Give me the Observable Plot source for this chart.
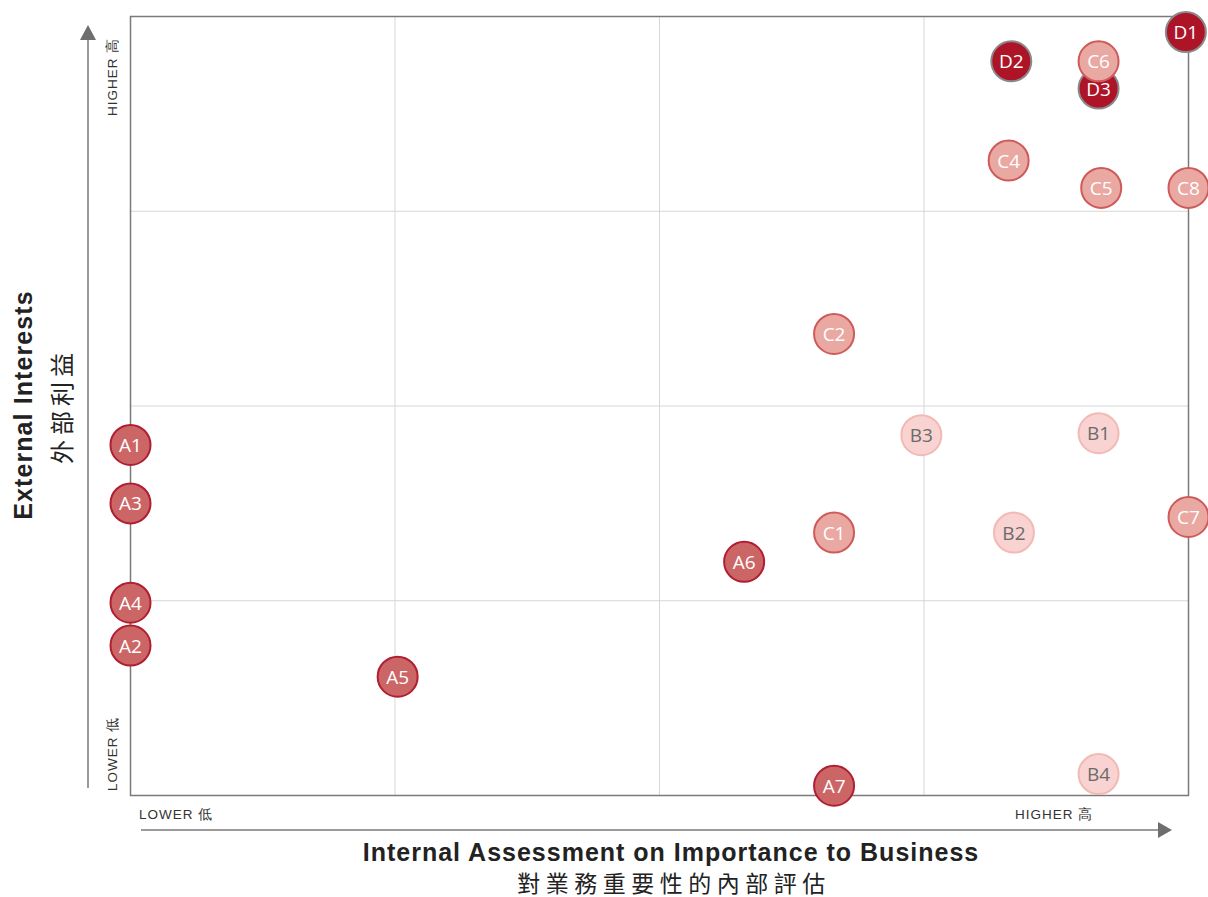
<!DOCTYPE html>
<html><head><meta charset="utf-8">
<script src="https://cdn.jsdelivr.net/npm/d3@7"></script>
<script src="https://cdn.jsdelivr.net/npm/@observablehq/plot@0.6"></script>
<style>body{margin:0;background:#fff}</style>
</head><body><div id="chart"></div>
<script>
const labels = ["D1","D2","D3","A1","A3","A4","A2","A5","A6","A7","B3","B1","B2","B4","C1","C2","C7","C4","C5","C8","C6"];
const internal = [3.99,3.33,3.66,0,0,0,0,1.01,2.32,2.66,2.99,3.66,3.34,3.66,2.66,2.66,4.0,3.32,3.67,4.0,3.66];
const external = [3.92,3.77,3.63,1.80,1.50,0.99,0.77,0.61,1.20,0.05,1.85,1.86,1.35,0.11,1.35,2.37,1.43,3.26,3.12,3.12,3.77];
const groups = labels.map(l => l[0]);
const gridTicks = [1,2,3];

const data = labels.map((l,i)=>({label:l, x:internal[i], y:external[i], g:groups[i]}));
const styles = {
  D:{fill:"#ad1428", stroke:"#8a8a8a", text:"#fff"},
  A:{fill:"#cc6666", stroke:"#b01e32", text:"#fff"},
  B:{fill:"#f8d3d1", stroke:"#f2b9b5", text:"#6b6b6b"},
  C:{fill:"#eaa8a3", stroke:"#cf5a5a", text:"#fff"}
};
const order = ["D","A","B","C"];
const marks = [
  Plot.gridX(gridTicks,{stroke:"#d6d6d6", strokeOpacity:1, strokeWidth:1}),
  Plot.gridY(gridTicks,{stroke:"#d6d6d6", strokeOpacity:1, strokeWidth:1}),
  Plot.frame({stroke:"#7a7a7a", strokeWidth:1.5})
];
for (const g of order) {
  const d = data.filter(v=>v.g===g);
  marks.push(Plot.dot(d,{x:"x",y:"y",r:20,fill:styles[g].fill,stroke:styles[g].stroke,strokeWidth:2}));
  marks.push(Plot.text(d,{x:"x",y:"y",text:"label",fill:styles[g].text,fontSize:19,fontFamily:"Open Sans",dy:1}));
}
const W=1208,H=897, ML=130, MR=20, MT=16, MB=102;
const plot = Plot.plot({
  width:W, height:H, marginLeft:ML, marginRight:MR, marginTop:MT, marginBottom:MB,
  x:{domain:[0,4], axis:null},
  y:{domain:[0,4], axis:null},
  clip:false,
  style:{fontFamily:"Open Sans", overflow:"visible"},
  marks
});
document.getElementById("chart").appendChild(plot);

const svg = d3.select(plot);
const deco = svg.insert("g", ":first-child");
const sans = "Liberation Sans, Arial, Helvetica, sans-serif";
// arrows
deco.append("line").attr("x1",88).attr("x2",88).attr("y1",788).attr("y2",38).attr("stroke","#7a7a7a").attr("stroke-width",1.5);
deco.append("path").attr("d","M80,40 L96,40 L88,25 Z").attr("fill","#6e6e6e");
deco.append("line").attr("x1",141).attr("x2",1160).attr("y1",830).attr("y2",830).attr("stroke","#7a7a7a").attr("stroke-width",1.5);
deco.append("path").attr("d","M1158,822 L1158,838 L1172,830 Z").attr("fill","#6e6e6e");
// small labels
const small = (x,y,t,rot,anchor)=>deco.append("text").attr("transform",`translate(${x},${y}) rotate(${rot})`)
  .attr("text-anchor",anchor).attr("font-family",sans).attr("font-size",13.5).attr("letter-spacing",1).attr("fill","#333").text(t);
small(117,116,"HIGHER 高",-90,"start");
small(117,791,"LOWER 低",-90,"start");
small(139,819,"LOWER 低",0,"start");
small(1015,819,"HIGHER 高",0,"start");
// titles
deco.append("text").attr("x",671).attr("y",861).attr("text-anchor","middle").attr("font-family",sans).attr("font-weight","bold").attr("font-size",25).attr("letter-spacing",1).attr("fill","#222").text("Internal Assessment on Importance to Business");
deco.append("text").attr("x",674).attr("y",892).attr("text-anchor","middle").attr("font-family","Noto Sans CJK TC").attr("font-size",23).attr("letter-spacing",5.5).attr("fill","#222").text("對業務重要性的內部評估");
deco.append("text").attr("transform","translate(32,405) rotate(-90)").attr("text-anchor","middle").attr("font-family",sans).attr("font-weight","bold").attr("font-size",25).attr("letter-spacing",1.1).attr("fill","#222").text("External Interests");
deco.append("text").attr("transform","translate(71,406) rotate(-90)").attr("text-anchor","middle").attr("font-family","Noto Sans CJK TC").attr("font-size",24).attr("letter-spacing",5).attr("fill","#222").text("外部利益");
</script></body></html>
